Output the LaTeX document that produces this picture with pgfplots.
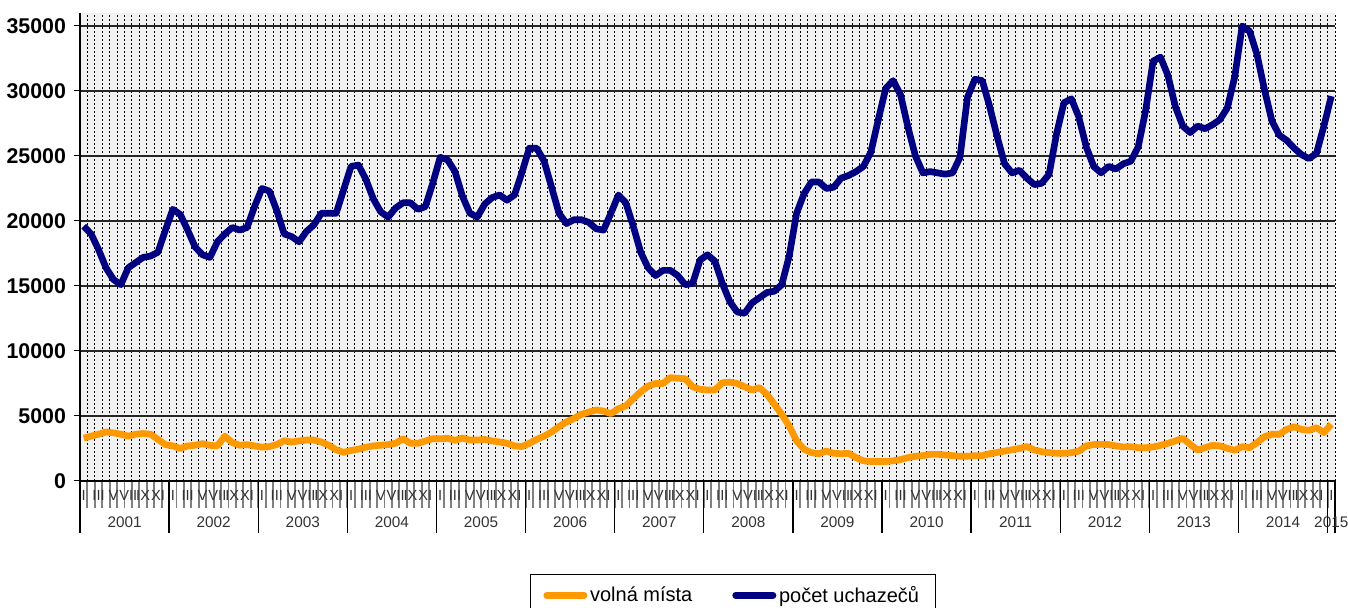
\documentclass[border=0pt]{standalone}
\usepackage{fontspec}
\setmainfont{Liberation Sans}
\usepackage{pgfplots}
\usepackage{pgfplotstable}
\pgfplotsset{compat=1.18}
\definecolor{blueU}{HTML}{000080}
\definecolor{orangeV}{HTML}{FF9900}
\pgfplotstableread{
i v u
0 3300 19600
1 3450 19000
2 3600 17800
3 3770 16400
4 3700 15500
5 3600 15100
6 3450 16400
7 3600 16800
8 3650 17200
9 3600 17300
10 3200 17600
11 2800 19300
12 2700 20900
13 2500 20500
14 2700 19300
15 2750 18000
16 2870 17400
17 2740 17200
18 2700 18400
19 3450 19000
20 2950 19500
21 2750 19300
22 2800 19500
23 2700 21100
24 2600 22500
25 2650 22300
26 2800 20800
27 3100 19000
28 3000 18800
29 3080 18400
30 3150 19200
31 3150 19700
32 3000 20600
33 2750 20600
34 2400 20600
35 2200 22400
36 2350 24200
37 2450 24300
38 2600 23200
39 2700 21700
40 2750 20700
41 2800 20300
42 2900 21000
43 3250 21400
44 2900 21400
45 2900 20900
46 3080 21100
47 3250 22900
48 3250 24900
49 3280 24700
50 3130 23800
51 3300 21900
52 3150 20600
53 3150 20300
54 3200 21300
55 3080 21800
56 3000 22000
57 2900 21600
58 2700 22000
59 2650 23700
60 2900 25600
61 3200 25600
62 3450 24600
63 3770 22600
64 4180 20600
65 4540 19800
66 4800 20100
67 5130 20100
68 5300 19900
69 5460 19400
70 5380 19300
71 5180 20600
72 5560 22000
73 5770 21400
74 6330 19600
75 6850 17600
76 7300 16400
77 7500 15800
78 7500 16200
79 7950 16200
80 7900 15800
81 7870 15100
82 7250 15200
83 7050 17000
84 7000 17400
85 7000 16900
86 7560 15200
87 7600 13800
88 7500 13000
89 7250 12900
90 7000 13700
91 7180 14100
92 6670 14500
93 5900 14600
94 5130 15100
95 4230 17300
96 3080 20600
97 2440 22100
98 2180 23000
99 2100 23000
100 2300 22500
101 2130 22600
102 2100 23300
103 2130 23500
104 1800 23800
105 1550 24200
106 1500 25300
107 1500 27800
108 1500 30200
109 1550 30800
110 1650 29700
111 1800 27200
112 1900 25000
113 1950 23700
114 2050 23800
115 2050 23700
116 2000 23600
117 1950 23700
118 1900 24900
119 1900 29500
120 1950 30900
121 1950 30800
122 2100 28800
123 2200 26500
124 2300 24400
125 2400 23700
126 2500 23900
127 2650 23300
128 2380 22800
129 2250 22900
130 2180 23600
131 2130 26700
132 2130 29100
133 2180 29400
134 2300 28000
135 2700 25700
136 2800 24200
137 2820 23700
138 2800 24200
139 2700 24000
140 2620 24400
141 2640 24600
142 2560 25700
143 2560 28500
144 2620 32300
145 2740 32600
146 2900 31200
147 3080 28800
148 3280 27300
149 2820 26800
150 2380 27300
151 2560 27100
152 2740 27400
153 2700 27800
154 2510 28700
155 2360 31100
156 2640 35000
157 2560 34600
158 2950 32800
159 3410 30100
160 3590 27700
161 3590 26600
162 3970 26200
163 4180 25600
164 3970 25100
165 3900 24800
166 4100 25200
167 3720 27300
168 4360 29600
}\datatable

\begin{document}
\begin{tikzpicture}
\begin{axis}[name=A,
  scale only axis, width=941.25pt, height=351pt,
  xmin=-0.5, xmax=168.5, ymin=0, ymax=36000,
  axis x line*=bottom, axis y line*=left,
  axis line style={-, black, line width=0.9pt},
  axis background/.style={fill=gray!10},
  tick align=outside,
  major tick length=4.5pt, minor tick length=20.25pt,
  ytick={0,5000,...,35000},
  scaled y ticks=false,
  /pgf/number format/1000 sep={},
  /pgf/number format/assume math mode=true,
  yticklabel style={font=\bfseries\fontsize{16}{16}\selectfont, xshift=-2.5pt},
  ytick style={black, line width=0.75pt},
  ymajorgrids,
  major y grid style={black!85, line width=0.8pt},
  xtick={0,2,...,168},
  xticklabels={I,III,V,VII,IX,XI,I,III,V,VII,IX,XI,I,III,V,VII,IX,XI,I,III,V,VII,IX,XI,I,III,V,VII,IX,XI,I,III,V,VII,IX,XI,I,III,V,VII,IX,XI,I,III,V,VII,IX,XI,I,III,V,VII,IX,XI,I,III,V,VII,IX,XI,I,III,V,VII,IX,XI,I,III,V,VII,IX,XI,I,III,V,VII,IX,XI,I,III,V,VII,IX,XI,I},
  xticklabel style={font=\fontsize{11}{11}\selectfont, text=black!80, yshift=1pt},
  major x tick style={draw=none},
  minor xtick={-0.5,0.5,...,168.5},
  minor x tick style={gray, line width=1.4pt},
  xminorgrids,
  minor x grid style={black, line width=0.75pt, dash pattern=on 1.8pt off 1.2pt},
  legend style={at={(0.52,-0.2009)}, anchor=north, legend columns=2,
    draw=black, line width=0.75pt, fill=white,
    font=\fontsize{15}{18}\selectfont, inner xsep=10pt, inner ysep=7pt,
    yshift=1pt,
    /tikz/every even column/.append style={column sep=28pt}},
  legend image code/.code={\draw[#1, line width=5pt, line cap=round] (0pt,0pt) -- (28pt,0pt);},
]
\addplot[orangeV, line width=5pt, line join=round] table[x=i, y=v] {\datatable};
\addlegendentry{volná místa}
\addplot[blueU, line width=5pt, line join=round] table[x=i, y=u] {\datatable};
\addlegendentry{počet uchazečů}
\end{axis}
\begin{axis}[
  at={(A.south west)}, anchor=south west,
  scale only axis, width=941.25pt, height=351pt,
  xmin=-0.5, xmax=168.5, ymin=0, ymax=1,
  axis x line*=bottom, axis y line=none,
  axis line style={-, black, line width=0.9pt},
  tick align=outside,
  major tick length=0pt, minor tick length=39pt,
  xtick={5.5,17.5,...,161.5,168},
  xticklabels={2001,2002,2003,2004,2005,2006,2007,2008,2009,2010,2011,2012,2013,2014,2015},
  xticklabel style={font=\fontsize{11.5}{11.5}\selectfont, text=black!80, yshift=-23.5pt},
  major x tick style={draw=none},
  minor xtick={-0.5,11.5,...,167.5,168.5},
  minor x tick style={black, line width=1pt},
]
\end{axis}
\pgfresetboundingbox
\path[use as bounding box] ([xshift=-60pt, yshift=9.75pt]A.north west) rectangle ([xshift=9.75pt, yshift=-95.25pt]A.south east);
\end{tikzpicture}
\end{document}
